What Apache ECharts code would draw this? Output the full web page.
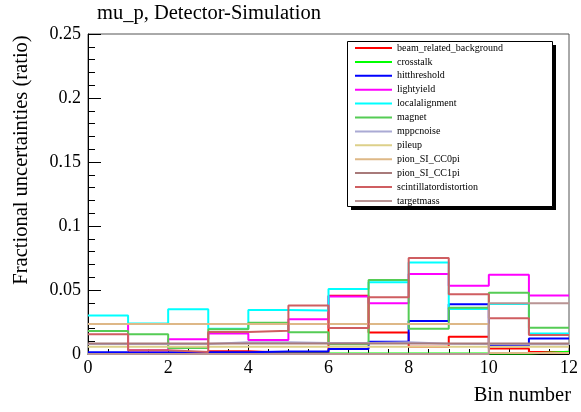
<!DOCTYPE html>
<html>
<head>
<meta charset="utf-8">
<script src="https://cdn.jsdelivr.net/npm/echarts@6/dist/echarts.min.js"></script>
<style>
html,body{margin:0;padding:0;background:#fff;}
#c{width:581px;height:412px;}
</style>
</head>
<body>
<div id="c"></div>
<script>
var binEdges = [0,1,2,3,4,5,6,7,8,9,10,11,12];
var seriesNames = ["beam_related_background","crosstalk","hitthreshold","lightyield","localalignment","magnet","mppcnoise","pileup","pion_SI_CC0pi","pion_SI_CC1pi","scintillatordistortion","targetmass"];
var seriesColors = ["#ff0000","#00ff00","#0000ff","#ff00ff","#00ffff","#55cc55","#aaaad4","#ddd08a","#deb887","#a87a7a","#cf5e61","#b99494"];

var beam_related_background = [0.0005,0.0005,0.0005,0.0022,0.0010,0.0010,0.0456,0.0167,0.0057,0.0135,0.0042,0.0015];
var crosstalk               = [0.0003,0.0003,0.0003,0.0003,0.0003,0.0003,0.0003,0.0003,0.0003,0.0003,0.0003,0.0018];
var hitthreshold            = [0.0013,0.0013,0.0013,0.0013,0.0020,0.0020,0.0039,0.0096,0.0258,0.0388,0.0065,0.0122];
var lightyield              = [0.0234,0.0030,0.0115,0.0160,0.0110,0.0271,0.0450,0.0396,0.0625,0.0534,0.0620,0.0458];
var localalignment          = [0.0300,0.0238,0.0350,0.0198,0.0344,0.0339,0.0508,0.0560,0.0714,0.0352,0.0390,0.0160];
var magnet                  = [0.0180,0.0154,0.0047,0.0193,0.0245,0.0169,0.0076,0.0578,0.0198,0.0362,0.0478,0.0206];
var mppcnoise               = [0.0078,0.0078,0.0078,0.0091,0.0091,0.0085,0.0085,0.0092,0.0080,0.0078,0.0076,0.0076];
var pileup                  = [0.0056,0.0056,0.0056,0.0056,0.0056,0.0056,0.0056,0.0056,0.0056,0.0056,0.0056,0.0056];
var pion_SI_CC0pi           = [0.0234,0.0234,0.0234,0.0234,0.0234,0.0234,0.0234,0.0234,0.0234,0.0234,0.0008,0.0008];
var pion_SI_CC1pi           = [0.0083,0.0083,0.0083,0.0083,0.0083,0.0083,0.0083,0.0083,0.0083,0.0083,0.0083,0.0083];
var scintillatordistortion  = [0.0154,0.0030,0.0015,0.0172,0.0182,0.0378,0.0203,0.0443,0.0750,0.0466,0.0279,0.0148];
var targetmass              = [0.0000,0.0000,0.0000,0.0000,0.0000,0.0000,0.0000,0.0000,0.0000,0.0000,0.0396,0.0396];

var yTicks = [0,0.05,0.1,0.15,0.2,0.25];
var xTicks = [0,2,4,6,8,10,12];

var allValues = [beam_related_background,crosstalk,hitthreshold,lightyield,localalignment,magnet,mppcnoise,pileup,pion_SI_CC0pi,pion_SI_CC1pi,scintillatordistortion,targetmass];

function histData(vals){
  var d = [];
  for (var i=0;i<vals.length;i++) d.push([binEdges[i], vals[i]]);
  d.push([binEdges[vals.length], vals[vals.length-1]]);
  return d;
}

var FONT = "'Liberation Serif','DejaVu Serif',serif";
var series = seriesNames.map(function(n,i){
  return {
    name:n, type:'line', step:'end', data:histData(allValues[i]),
    symbol:'none', color:seriesColors[i],
    lineStyle:{width:2, color:seriesColors[i]},
    animation:false, z:2
  };
});

var chart = echarts.init(document.getElementById('c'), null, {renderer:'canvas'});
chart.setOption({
  animation:false,
  backgroundColor:'#fff',
  grid:{left:88, right:10, top:34, bottom:58, show:true, borderColor:'#555', borderWidth:1, backgroundColor:'transparent'},
  xAxis:{
    type:'value', min:xTicks[0], max:xTicks[xTicks.length-1], interval:2,
    axisLine:{show:true, onZero:false, lineStyle:{color:'#000', width:1}},
    axisTick:{show:true, inside:true, length:9, lineStyle:{color:'#000'}},
    minorTick:{show:true, splitNumber:4, length:5, lineStyle:{color:'#000'}},
    splitLine:{show:false},
    axisLabel:{color:'#000', fontSize:18, fontFamily:FONT, margin:5}
  },
  yAxis:{
    type:'value', min:yTicks[0], max:yTicks[yTicks.length-1], interval:0.05,
    axisLine:{show:true, lineStyle:{color:'#000', width:1}},
    axisTick:{show:true, inside:true, length:13, lineStyle:{color:'#000'}},
    minorTick:{show:true, splitNumber:5, length:7, lineStyle:{color:'#000'}},
    splitLine:{show:false},
    axisLabel:{color:'#000', fontSize:18, fontFamily:FONT, margin:7}
  },
  legend:{
    orient:'vertical', left:355, top:42, padding:0,
    icon:'rect', itemWidth:37, itemHeight:2, itemGap:1.9,
    textStyle:{color:'#000', fontSize:10, fontFamily:FONT, lineHeight:12},
    data:seriesNames, z:10
  },
  graphic:[
    {type:'rect', z:8, shape:{x:351, y:45, width:205, height:165}, style:{fill:'#000'}},
    {type:'rect', z:9, shape:{x:347.5, y:41.5, width:205, height:165}, style:{fill:'#fff', stroke:'#000', lineWidth:1}},
    {type:'text', z:10, x:97, y:14, style:{text:'mu_p, Detector-Simulation', font:"20.5px "+FONT, fill:'#000', textAlign:'left', textVerticalAlign:'middle'}},
    {type:'text', z:10, x:22, y:160, rotation:Math.PI/2, style:{text:'Fractional uncertainties (ratio)', font:"20.5px "+FONT, fill:'#000', textAlign:'center', textVerticalAlign:'middle'}},
    {type:'text', z:10, x:571, y:396, style:{text:'Bin number', font:"20.5px "+FONT, fill:'#000', textAlign:'right', textVerticalAlign:'middle'}}
  ],
  series:series
});
</script>
</body>
</html>
